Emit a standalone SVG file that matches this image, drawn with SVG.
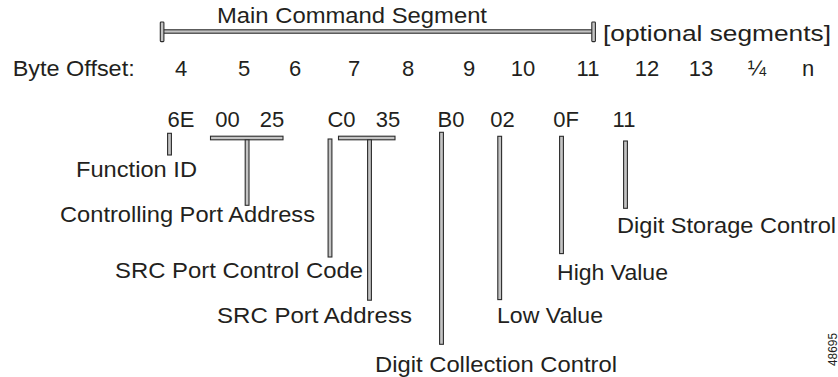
<svg xmlns="http://www.w3.org/2000/svg" width="838" height="377" viewBox="0 0 838 377">
  <style>
    text { font-family: "Liberation Sans", Arial, Helvetica, sans-serif; font-size: 22px; fill: #231f20; }
    .num { text-anchor: middle; }
    .bar { fill: #c4c4c4; stroke: #2b2b2b; stroke-width: 1.1; }
    .fig { font-size: 12.5px; }
  </style>
  <rect width="838" height="377" fill="#ffffff"/>

  <!-- segment span -->
  <g id="segment">
    <rect class="bar" x="162" y="29.8" width="431" height="3.4"/>
    <rect class="bar" x="160.3" y="22" width="3.6" height="19.6" rx="0.8"/>
    <rect class="bar" x="591.8" y="22" width="3.6" height="19.6" rx="0.8"/>
    <text x="217" y="23.3" textLength="270" lengthAdjust="spacingAndGlyphs">Main Command Segment</text>
    <text x="603" y="41" textLength="228" lengthAdjust="spacingAndGlyphs">[optional segments]</text>
  </g>

  <!-- byte offsets -->
  <g id="offsets">
    <text x="12.7" y="75.7" textLength="122" lengthAdjust="spacingAndGlyphs">Byte Offset:</text>
    <text class="num" x="181" y="75.7">4</text>
    <text class="num" x="244" y="75.7">5</text>
    <text class="num" x="295" y="75.7">6</text>
    <text class="num" x="354" y="75.7">7</text>
    <text class="num" x="408" y="75.7">8</text>
    <text class="num" x="469" y="75.7">9</text>
    <text class="num" x="523" y="75.7">10</text>
    <text class="num" x="588" y="75.7">11</text>
    <text class="num" x="647" y="75.7">12</text>
    <text class="num" x="701" y="75.7">13</text>
    <text class="num" x="757" y="75.7">¼</text>
    <text class="num" x="808" y="75.7">n</text>
  </g>

  <!-- byte values -->
  <g id="values">
    <text class="num" x="181" y="126.7">6E</text>
    <text class="num" x="227.5" y="126.7">00</text>
    <text class="num" x="272" y="126.7">25</text>
    <text class="num" x="341.5" y="126.7">C0</text>
    <text class="num" x="388" y="126.7">35</text>
    <text class="num" x="451" y="126.7">B0</text>
    <text class="num" x="502.5" y="126.7">02</text>
    <text class="num" x="566" y="126.7">0F</text>
    <text class="num" x="624" y="126.7">11</text>
  </g>

  <!-- leader lines from values to field names -->
  <g id="connectors">
    <rect class="bar" x="167.6" y="133.3" width="3.8" height="21.7"/>
    <rect class="bar" x="210.5" y="136.2" width="72.5" height="3.6"/>
    <rect class="bar" x="245.2" y="139.8" width="3.8" height="65.5"/>
    <rect class="bar" x="328.1" y="139" width="3.8" height="118"/>
    <rect class="bar" x="338.5" y="136.2" width="56.5" height="3.6"/>
    <rect class="bar" x="367.6" y="139.8" width="3.8" height="160.4"/>
    <rect class="bar" x="439.6" y="132.3" width="3.8" height="212"/>
    <rect class="bar" x="497.8" y="136.3" width="3.8" height="163.3"/>
    <rect class="bar" x="559.6" y="136.3" width="3.8" height="117.3"/>
    <rect class="bar" x="623.6" y="141" width="3.8" height="67.3"/>
  </g>

  <g id="function-id">
    <text x="76" y="177" textLength="121" lengthAdjust="spacingAndGlyphs">Function ID</text>
  </g>
  <g id="controlling-port-address">
    <text x="60" y="222" textLength="255" lengthAdjust="spacingAndGlyphs">Controlling Port Address</text>
  </g>
  <g id="src-port-control-code">
    <text x="115" y="278.3" textLength="248" lengthAdjust="spacingAndGlyphs">SRC Port Control Code</text>
  </g>
  <g id="src-port-address">
    <text x="217" y="322.5" textLength="195" lengthAdjust="spacingAndGlyphs">SRC Port Address</text>
  </g>
  <g id="digit-collection-control">
    <text x="375" y="371.5" textLength="242" lengthAdjust="spacingAndGlyphs">Digit Collection Control</text>
  </g>
  <g id="low-value">
    <text x="497" y="323.3" textLength="106" lengthAdjust="spacingAndGlyphs">Low Value</text>
  </g>
  <g id="high-value">
    <text x="557" y="279.5" textLength="111" lengthAdjust="spacingAndGlyphs">High Value</text>
  </g>
  <g id="digit-storage-control">
    <text x="617" y="233.3" textLength="219" lengthAdjust="spacingAndGlyphs">Digit Storage Control</text>
  </g>

  <text class="fig" transform="translate(836.5,366) rotate(-90)" textLength="33" lengthAdjust="spacingAndGlyphs">48695</text>
</svg>
